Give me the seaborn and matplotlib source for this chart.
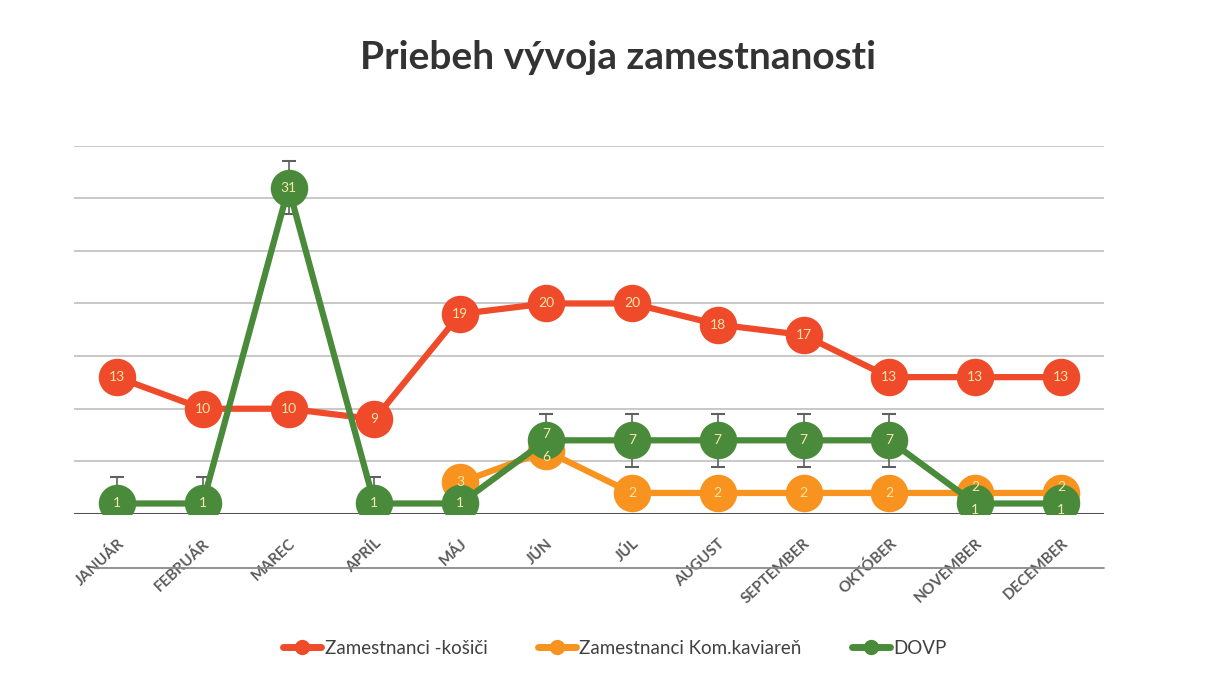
import numpy as np
import pandas as pd
import seaborn as sns
import matplotlib.pyplot as plt
from matplotlib.lines import Line2D

# udaje
mesiace = ['JANUÁR', 'FEBRUÁR', 'MAREC', 'APRÍL', 'MÁJ', 'JÚN', 'JÚL', 'AUGUST',
           'SEPTEMBER', 'OKTÓBER', 'NOVEMBER', 'DECEMBER']
kosici = [13, 10, 10, 9, 19, 20, 20, 18, 17, 13, 13, 13]
kaviaren = [np.nan, np.nan, np.nan, np.nan, 3, 6, 2, 2, 2, 2, 2, 2]
dovp = [1, 1, 31, 1, 1, 7, 7, 7, 7, 7, 1, 1]
dovp_chyba = 2.5

serie = ['Zamestnanci -košiči', 'Zamestnanci Kom.kaviareň', 'DOVP']
farby = ['#EF4B2B', '#F7931E', '#4A8B3B']

frames = []
for nazov, hodnoty in zip(serie, [kosici, kaviaren, dovp]):
    frames.append(pd.DataFrame({'x': range(len(mesiace)), 'y': hodnoty, 'seria': nazov}))
df = pd.concat(frames, ignore_index=True)

sns.set_theme(style='white')
plt.rcParams['font.family'] = ['Lato', 'DejaVu Sans']

fig = plt.figure(figsize=(12.23, 6.81), dpi=100)
ax = fig.add_axes([0.0605, 0.2452, 0.8422, 0.5411])

# mriezka
for v in range(5, 36, 5):
    ax.axhline(v, color='#c4c4c4', lw=1.3, zorder=0)
ax.axhline(0, color='#505050', lw=2.2, zorder=1)

sns.lineplot(data=df, x='x', y='y', hue='seria', hue_order=serie, palette=farby,
             sort=False, lw=4.5, marker='o', markersize=27, markeredgewidth=0,
             legend=False, ax=ax)

# chybove useciky pre DOVP
ax.errorbar(range(len(mesiace)), dovp, yerr=dovp_chyba, fmt='none',
            ecolor='#606060', elinewidth=1.2, capsize=5, capthick=1.5, zorder=1.5)

# popisky hodnot - pri blizkych bodoch ich trochu od seba odsunieme
for hodnoty in [kosici, kaviaren, dovp]:
    for i, v in enumerate(hodnoty):
        if np.isnan(v):
            continue
        posun = 0
        if hodnoty is not kosici and not np.isnan(kaviaren[i]) and abs(kaviaren[i] - dovp[i]) < 2:
            ina = dovp[i] if hodnoty is kaviaren else kaviaren[i]
            posun = 4.5 if v > ina else -4.5
        ax.annotate(str(int(v)), (i, v), xytext=(0, posun), textcoords='offset points',
                    ha='center', va='center', fontsize=10, color='#F6E7A8', zorder=10)

ax.set_xlim(-0.5, len(mesiace) - 0.5)
ax.set_ylim(0, 35)
ax.set_xticks(range(len(mesiace)))
ax.set_xticklabels(mesiace, rotation=43, ha='right', va='top',
                   rotation_mode='anchor', fontsize=11, fontweight='bold',
                   color='#5a5a5a')
ax.tick_params(axis='x', length=0, pad=16)
ax.set_yticks([])
ax.set_xlabel('')
ax.set_ylabel('')
for s in ax.spines.values():
    s.set_visible(False)

# dolna ciara pod popismi
fig.add_artist(Line2D([0.078, 0.9027], [0.166, 0.166], color='#8a8a8a', lw=1.3))

fig.text(0.505, 0.915, 'Priebeh vývoja zamestnanosti', ha='center', va='center',
         fontsize=28, fontweight='bold', color='#333333')

handles = [Line2D([], [], color=c, lw=5, marker='o', markersize=10) for c in farby]
fig.legend(handles, serie, loc='center', bbox_to_anchor=(0.503, 0.048), ncol=3,
           frameon=False, fontsize=13.5, handlelength=2.0, columnspacing=2.7,
           handletextpad=0.2, labelcolor='#404040')

fig.savefig('out.png', dpi=100)
